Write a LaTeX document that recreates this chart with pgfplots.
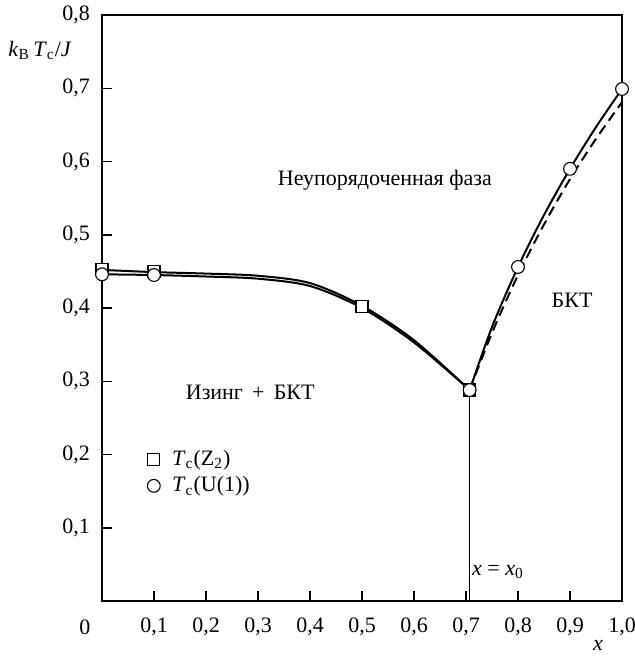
\documentclass[border=0pt]{standalone}
\usepackage{fontspec}
\setmainfont{Liberation Serif}
\usepackage{pgfplots}
\pgfplotsset{compat=1.18}

\begin{document}
\begin{tikzpicture}[font=\fontsize{11}{13.2}\selectfont]
\useasboundingbox (-51pt,-30.5pt) rectangle (266.5pt,300.5pt);
\begin{axis}[
  at={(0,0)}, anchor=south west,
  scale only axis,
  width=260pt, height=293pt,
  xmin=0, xmax=1, ymin=0, ymax=0.8,
  clip=false,
  axis line style={line width=0.75pt},
  xtick={0.1,0.2,0.3,0.4,0.5,0.6,0.7,0.8,0.9,1.0},
  ytick={0.1,0.2,0.3,0.4,0.5,0.6,0.7,0.8},
  xtick pos=bottom, ytick pos=left,
  tick align=inside,
  major tick length=5pt,
  tick style={line width=0.75pt, black},
  xticklabel style={yshift=-5pt},
  yticklabel style={xshift=-2.5pt},
  /pgf/number format/.cd, use comma, fixed, fixed zerofill, precision=1, assume math mode=true,
  /pgfplots/.cd,
  legend cell align=left,
  legend style={at={(axis cs:0.075,0.217)}, anchor=north west, draw=none, fill=none,
    row sep=0pt, column sep=4pt, font=\fontsize{11}{13.2}\selectfont},
]
% Z2 line (upper) and U(1) line (lower), x < x0
\addplot[forget plot, black, line width=1pt, smooth] coordinates {
  (0,0.452) (0.1,0.449) (0.2,0.447) (0.3,0.444) (0.4,0.434) (0.5,0.403) (0.6,0.356) (0.7071,0.288)};
\addplot[forget plot, black, line width=1pt, smooth] coordinates {
  (0,0.446) (0.1,0.445) (0.2,0.443) (0.3,0.440) (0.4,0.430) (0.5,0.400) (0.6,0.353) (0.7071,0.288)};
% BKT branch, x > x0
\addplot[forget plot, black, line width=1pt, smooth] coordinates {
  (0.7071,0.288) (0.75,0.374) (0.8,0.456) (0.85,0.527) (0.9,0.590) (0.95,0.647) (1.0,0.699)};
\addplot[forget plot, black, line width=1pt, smooth, dash pattern=on 5pt off 3pt] coordinates {
  (0.7071,0.288) (0.75,0.366) (0.8,0.445) (0.85,0.514) (0.9,0.576) (0.95,0.631) (1.0,0.681)};
% x = x0
\addplot[forget plot, black, line width=0.6pt] coordinates {(0.7071,0) (0.7071,0.288)};
% data marks
\addplot[only marks, mark=square*, mark size=3pt, mark options={fill=white, draw=black, line width=0.55pt}]
  coordinates {(0,0.452) (0.1,0.450) (0.5,0.402) (0.7071,0.288)};
\addplot[only marks, mark=*, mark size=3.2pt, mark options={fill=white, draw=black, line width=0.55pt}]
  coordinates {(0,0.446) (0.1,0.445) (0.7071,0.288) (0.8,0.456) (0.9,0.590) (1.0,0.699)};
\legend{\textit{T}\textsubscript{c}(Z\textsubscript{2}), \textit{T}\textsubscript{c}(U(1))}

\node at (axis cs:0,0) [xshift=-8.5pt, yshift=-13pt] {0};
\node at (rel axis cs:0.954,0) [yshift=-22pt] {\textit{x}};
\node at (rel axis cs:0,0.94) [xshift=-31pt] {\textit{k}\textsubscript{B}\,\textit{T}\textsubscript{c}/\textit{J}};
\node at (axis cs:0.544,0.574) {Неупорядоченная фаза};
\node at (axis cs:0.904,0.411) {БКТ};
\node at (axis cs:0.285,0.285) {Изинг \,+\, БКТ};
\node[anchor=west, inner sep=1pt] at (axis cs:0.7071,0.04) {\textit{x} = \textit{x}\textsubscript{0}};
\end{axis}
\end{tikzpicture}
\end{document}
